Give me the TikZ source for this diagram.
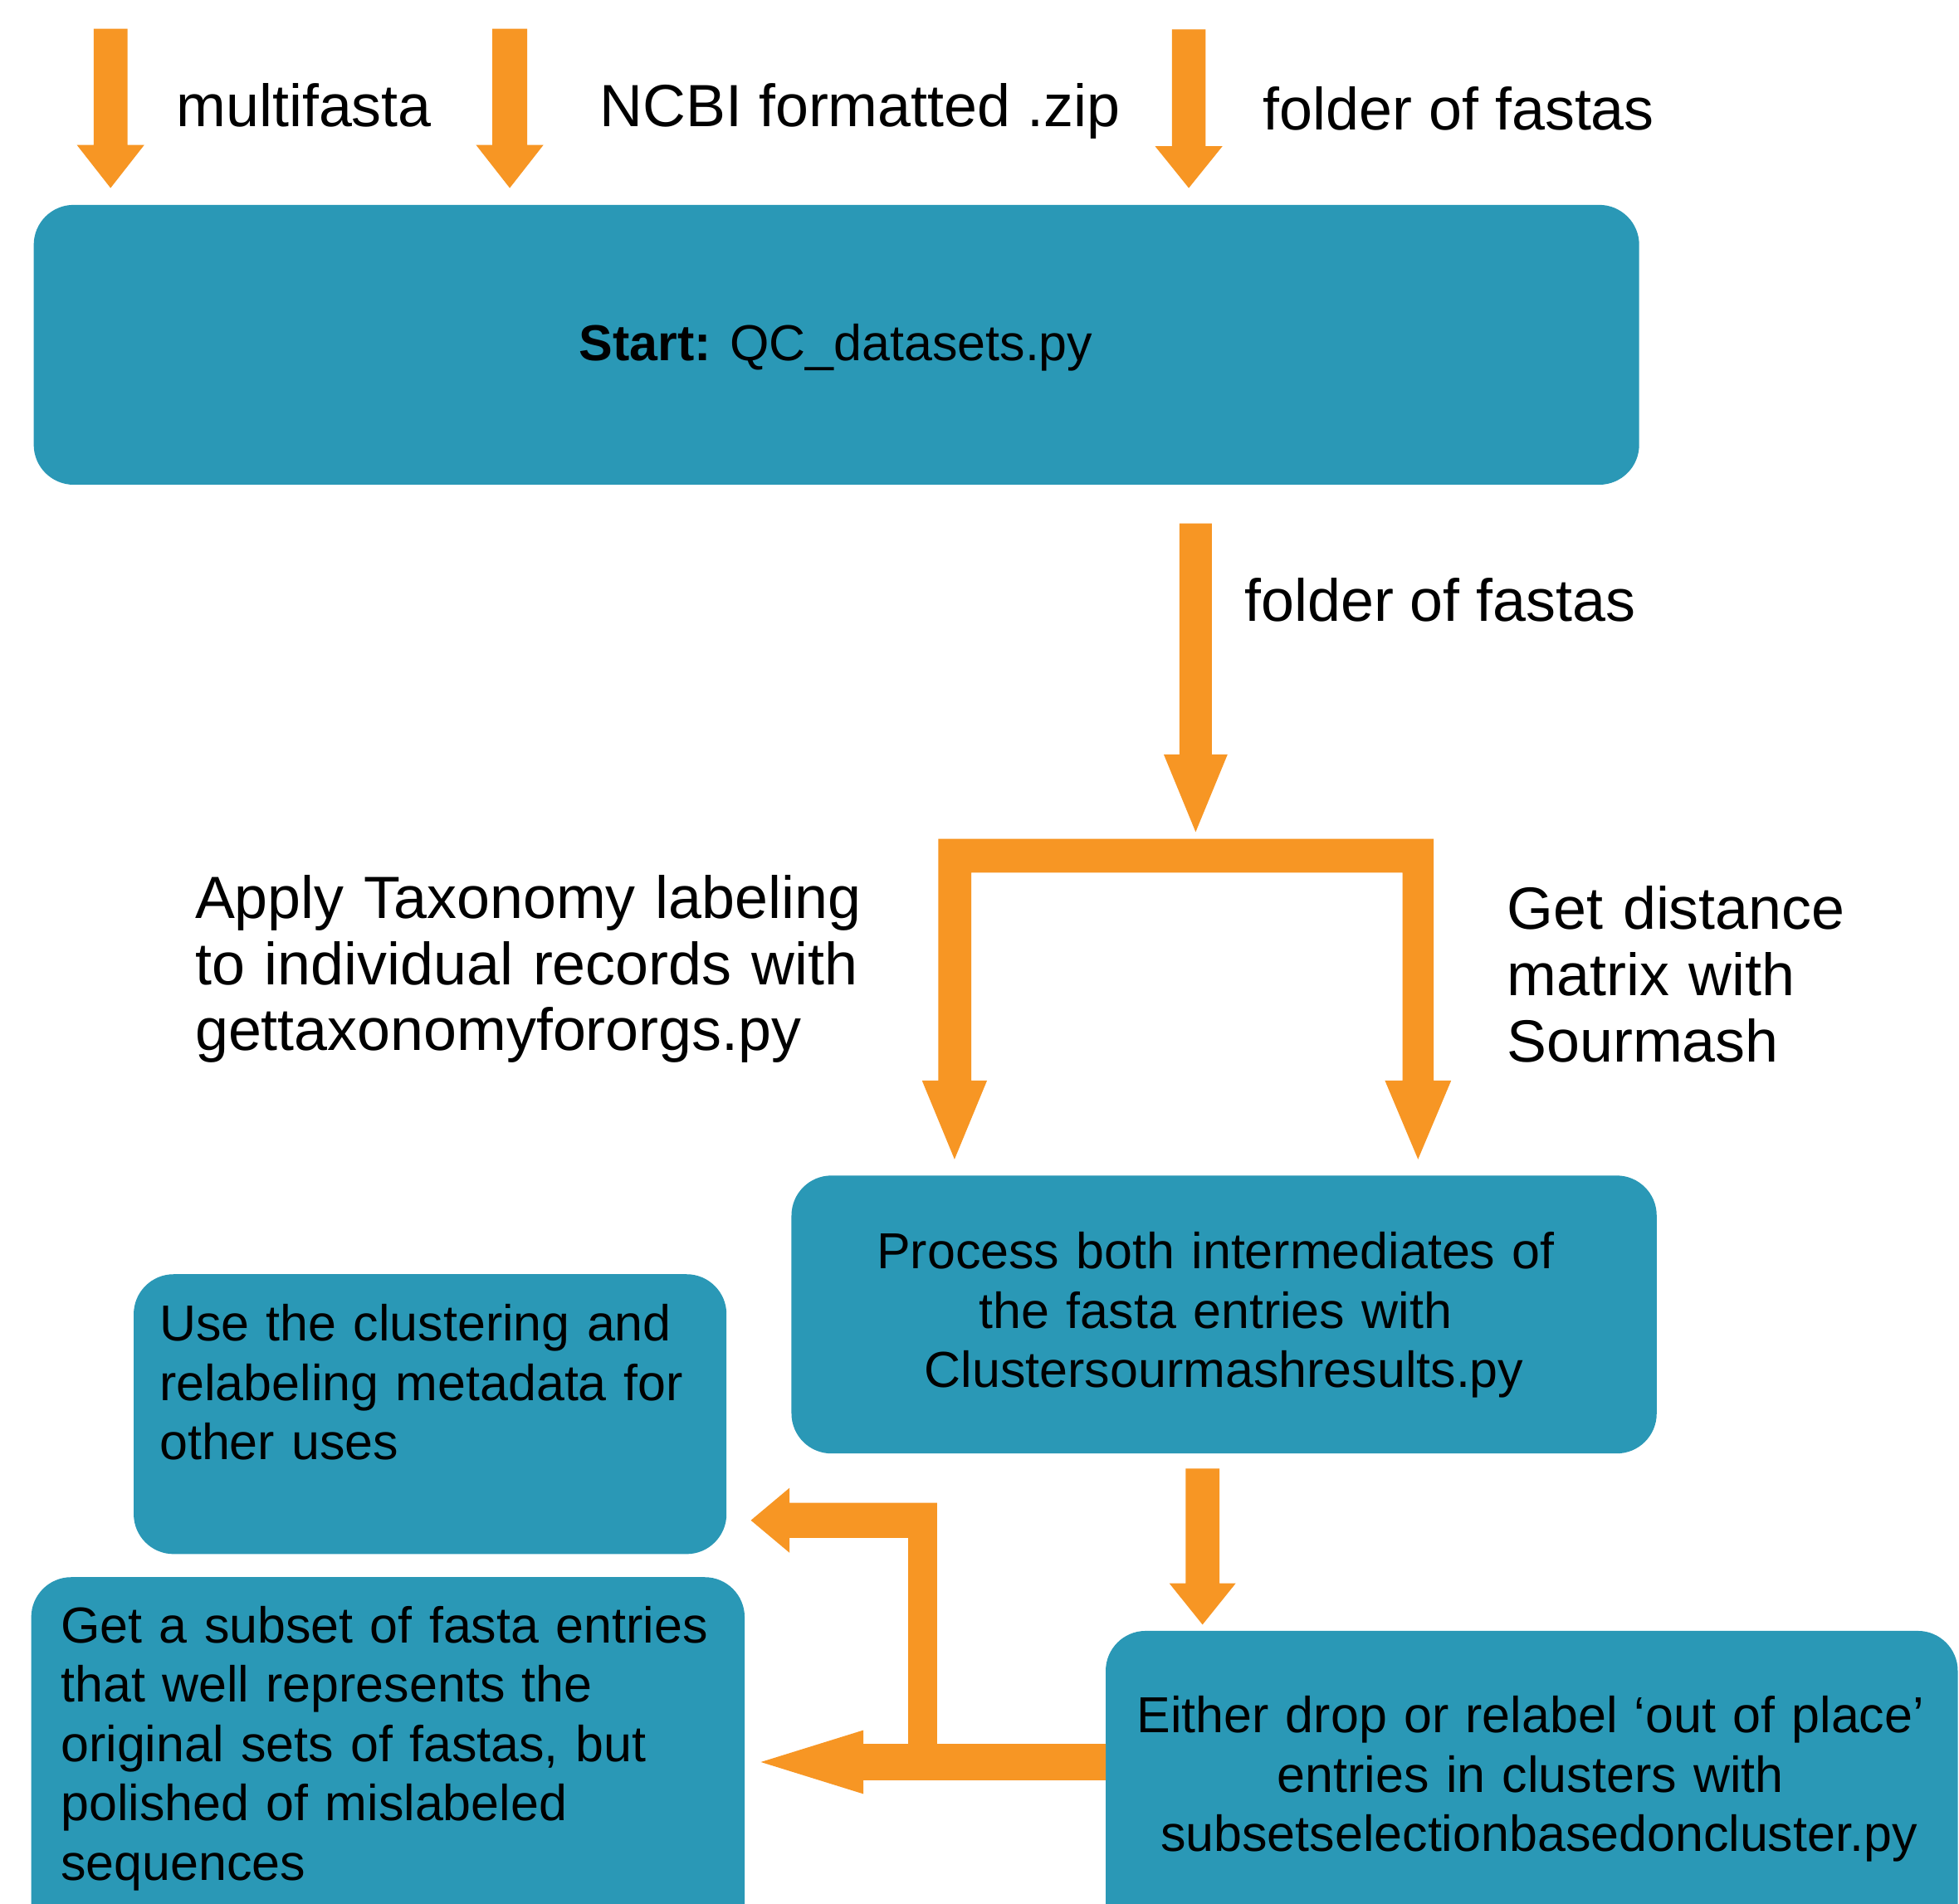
\documentclass[tikz,border=0pt]{standalone}
\usepackage{fontspec}
\setmainfont{Liberation Sans}
\definecolor{boxteal}{RGB}{42,152,182}
\definecolor{flow}{RGB}{247,150,36}
\tikzset{
  box/.style={fill=boxteal, rounded corners=32pt, inner sep=0pt, outer sep=0pt},
  arrowfill/.style={fill=flow},
  lbl/.style={inner sep=0pt, anchor=base west, font=\fontsize{47.7}{53}\selectfont, align=left},
  boxtxt/.style={inner sep=0pt, font=\fontsize{40.5}{47.5}\selectfont},
}
\newcommand\blockdown[6]{%
  \fill[arrowfill] (#1-#5,#2) -- (#1+#5,#2) -- (#1+#5,#3) -- (#1+#6,#3) -- (#1,#4)
    -- (#1-#6,#3) -- (#1-#5,#3) -- cycle;}
\newcommand\tsp{\mbox{}\ \mbox{}}
\begin{document}
\begin{tikzpicture}[x=1pt,y=-1pt]
\useasboundingbox (0,0) rectangle (1568,1524);
\clip (0,0) rectangle (1568,1524);
\fill[white] (0,0) rectangle (1568,1524);

% boxes
\node[box, minimum width=1285pt, minimum height=224pt] (b1) at (669.5,276) {};
\node[box, minimum width=692.5pt, minimum height=222.5pt] (b2) at (979.75,1052.25) {};
\node[box, minimum width=474.5pt, minimum height=224pt] (b3) at (344.25,1132) {};
\node[box, minimum width=571pt, minimum height=337.5pt] (b4) at (310.5,1431.25) {};
\node[box, minimum width=682pt, minimum height=334.5pt] (b5) at (1226,1472.75) {};

% box texts
\node[boxtxt, anchor=base] (t1) at (669,289) {\textbf{Start:} QC\_datasets.py};
\node[boxtxt, anchor=base, text width=680pt, align=center] (t2) at (979.75,1015.8)
  {Process both intermediates of\tsp\\the fasta entries with\tsp\\Clustersourmashresults.py};
\node[boxtxt, anchor=base west, text width=450pt, align=left] (t3) at (127.5,1073.5)
  {Use the clustering and\\relabeling metadata for\\other uses};
\node[boxtxt, anchor=base west, text width=545pt, align=left] (t4) at (48.5,1315)
  {Get a subset of fasta entries\\that well represents the\\original sets of fastas, but\\polished of mislabeled\\sequences};
\node[boxtxt, anchor=base, text width=680pt, align=center] (t5) at (1225,1387)
  {Either drop or relabel ‘out of place’\\entries in clusters with\\\tsp subsetselectionbasedoncluster.py};

% labels
\node[lbl] (l1) at (141,101.5) {multifasta};
\node[lbl] (l2) at (480,101.5) {NCBI formatted .zip};
\node[lbl] (l3) at (1011,104) {folder of fastas};
\node[lbl] (l4) at (996,497) {folder of fastas};
\node[lbl, text width=600pt] (l5) at (156,735) {Apply Taxonomy labeling\\to individual records with\\gettaxonomyfororgs.py};
\node[lbl, text width=360pt] (l6) at (1206,744) {Get distance\\matrix with\\Sourmash};

% top input arrows
\blockdown{88.5}{23}{116}{150.5}{13.5}{27}
\blockdown{408}{23}{116}{150.5}{14}{27}
\blockdown{951.5}{23.5}{117}{150.5}{13.5}{27}
% arrow from start box
\blockdown{957}{419}{604}{666}{13}{25.5}
% fork
\fill[arrowfill] (751,671.5) -- (1147.5,671.5) -- (1147.5,865) -- (1161.5,865) -- (1135,928)
  -- (1108.5,865) -- (1122.5,865) -- (1122.5,698.5) -- (777.5,698.5) -- (777.5,865)
  -- (790,865) -- (764,928) -- (738,865) -- (751,865) -- cycle;
% arrow from process box
\blockdown{962.5}{1175.5}{1267.5}{1300.5}{13.5}{26.5}
% bottom-left split arrow
\fill[arrowfill] (b5.west |- 0,1396) -- (750,1396) -- (750,1203) -- (632,1203) -- (632,1191)
  -- (601,1217) -- (632,1243) -- (632,1231) -- (727,1231) -- (727,1396) -- (691,1396)
  -- (691,1385) -- (609,1410.5) -- (691,1436) -- (691,1425) -- (b5.west |- 0,1425) -- cycle;
\end{tikzpicture}
\end{document}
